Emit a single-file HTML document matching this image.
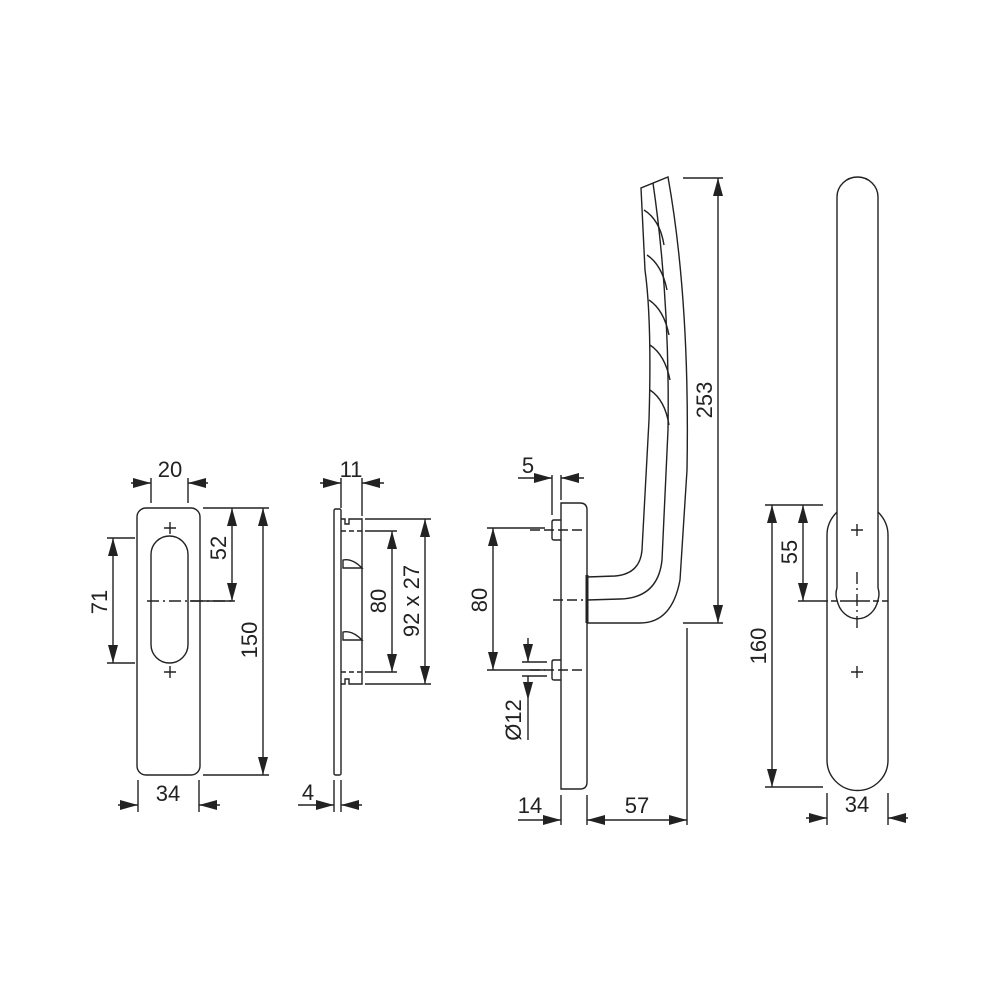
<!DOCTYPE html>
<html><head><meta charset="utf-8"><style>
html,body{margin:0;padding:0;background:#fff}
svg{display:block}
text{font-family:"Liberation Sans",sans-serif;font-size:22px;fill:#222}
</style></head><body>
<svg width="1000" height="1000" viewBox="0 0 1000 1000" xmlns="http://www.w3.org/2000/svg">
<defs>
<marker id="a" viewBox="0 0 18 10" refX="18" refY="5" markerWidth="18" markerHeight="10" markerUnits="userSpaceOnUse" orient="auto-start-reverse"><path d="M0,0 L18,5 L0,10 z" fill="#222"/></marker>
</defs>
<g stroke="#222" stroke-width="1.4" fill="none">
<!-- Plate 1 -->
<rect x="137" y="508" width="63" height="267" rx="9"/>
<rect x="151" y="536" width="37" height="127" rx="18.5"/>
<path d="M164,528 h12 M170,522 v12 M164,672 h12 M170,666 v12"/>
<path d="M147,601 h88" stroke-dasharray="12,4,2,4"/>
<path d="M151,503 v-25 M188,503 v-25"/>
<path d="M131,483 L151,483" marker-end="url(#a)"/>
<path d="M208,483 L188,483" marker-end="url(#a)"/>
<path d="M203,508 h66 M203,775 h66 M190,601 h45"/>
<path d="M232,508 V601" marker-start="url(#a)" marker-end="url(#a)"/>
<path d="M263,508 V775" marker-start="url(#a)" marker-end="url(#a)"/>
<path d="M107,538 h28 M107,663 h28"/>
<path d="M113,538 V663" marker-start="url(#a)" marker-end="url(#a)"/>
<path d="M138,780 v32 M199,780 v32"/>
<path d="M118,805 L138,805" marker-end="url(#a)"/>
<path d="M220,805 L199,805" marker-end="url(#a)"/>
<!-- Side plate -->
<rect x="334" y="509" width="7" height="266" rx="1.5"/>
<path d="M341,519 h4 v5 h4 v-5 h13 v165 h-13 v-5 h-4 v5 h-4"/>
<path d="M341,531 h21 M341,672 h21" stroke-dasharray="5,3"/>
<path d="M343,560 Q352,558 362,568 L343,568 Z M343,632 Q352,630 362,640 L343,640 Z"/>
<path d="M341,508 v-30 M362,516 v-38"/>
<path d="M320,483 L341,483" marker-end="url(#a)"/>
<path d="M384,483 L362,483" marker-end="url(#a)"/>
<path d="M334,780 v32 M341,780 v32"/>
<path d="M298,805 L334,805" marker-end="url(#a)"/>
<path d="M362,805 L341,805" marker-end="url(#a)"/>
<path d="M365,531 h32 M365,672 h32 M365,519 h66 M365,684 h66"/>
<path d="M392,531 V672" marker-start="url(#a)" marker-end="url(#a)"/>
<path d="M425,519 V684" marker-start="url(#a)" marker-end="url(#a)"/>
<!-- Handle side -->
<path d="M561,789 V503 H580 Q587,503 587,510 V782 Q587,789 580,789 Z"/>
<path d="M561,520 h-7 q-2,0 -2,2 v16 q0,2 2,2 h7 M561,660 h-7 q-2,0 -2,2 v16 q0,2 2,2 h7"/>
<path d="M530,530 h52 M530,670 h52 M553,600 h30" stroke-dasharray="10,4"/>
<path d="M587,577 L615,576 Q640,574 642,550 L649,420 Q652,320 645,270 L641,188 L668,177 Q690,300 687,470 L680,580 Q672,623 640,623 L587,623"/>
<path d="M587,600 L620,599 Q658,598 662,560 L668,430 Q670,300 653,183"/>
<path d="M587,575 v48" stroke-width="3"/>
<path d="M644,210 Q660,220 664,245 M647,255 Q662,265 667,290 M649,300 Q664,310 669,335 M650,345 Q665,355 670,380 M650,390 Q665,400 669,425"/>
<path d="M552,515 v-40 M561,500 v-25"/>
<path d="M518,478 L552,478" marker-end="url(#a)"/>
<path d="M584,478 L561,478" marker-end="url(#a)"/>
<path d="M487,528 h58 M487,670 h58"/>
<path d="M493,528 V670" marker-start="url(#a)" marker-end="url(#a)"/>
<path d="M522,662 h25 M522,676 h25"/>
<path d="M528,638 L528,662" marker-end="url(#a)"/>
<path d="M528,700 L528,676 M528,700 V740" marker-start="url(#a)"/>
<path d="M561,795 v30 M587,795 v30 M687,628 v197"/>
<path d="M518,820 L561,820" marker-end="url(#a)"/>
<path d="M587,820 H687" marker-start="url(#a)" marker-end="url(#a)"/>
<path d="M683,178 h40 M683,623 h40"/>
<path d="M718,178 V623" marker-start="url(#a)" marker-end="url(#a)"/>
<!-- Front view -->
<path d="M837,588 V197 A20.5,20 0 0 1 878,197 V588"/>
<path d="M837,512 Q827,522 827,535 V760 A30,30 0 0 0 888,760 V535 Q888,522 878,512"/>
<path d="M837,588 Q835,594 837,600 A21,24 0 0 0 878,600 Q880,594 878,588"/>
<path d="M851,530 h12 M857,524 v12 M851,672 h12 M857,666 v12"/>
<path d="M857,572 v58" stroke-dasharray="12,4,2,4"/>
<path d="M798,601 h90" stroke-dasharray="30,3,6,3"/>
<path d="M765,505 h58 M765,787 h58"/>
<path d="M803,505 V601" marker-start="url(#a)" marker-end="url(#a)"/>
<path d="M772,505 V787" marker-start="url(#a)" marker-end="url(#a)"/>
<path d="M827,793 v32 M888,793 v32"/>
<path d="M806,818 L827,818" marker-end="url(#a)"/>
<path d="M908,818 L888,818" marker-end="url(#a)"/>
</g>
<text x="170" y="477" text-anchor="middle">20</text>
<text x="168" y="801" text-anchor="middle">34</text>
<text transform="translate(226,548) rotate(-90)" text-anchor="middle">52</text>
<text transform="translate(257,640) rotate(-90)" text-anchor="middle">150</text>
<text transform="translate(107,602) rotate(-90)" text-anchor="middle">71</text>
<text x="351" y="477" text-anchor="middle">11</text>
<text x="308" y="800" text-anchor="middle">4</text>
<text transform="translate(386,601) rotate(-90)" text-anchor="middle">80</text>
<text transform="translate(419,601) rotate(-90)" text-anchor="middle">92 x 27</text>
<text x="528" y="473" text-anchor="middle">5</text>
<text transform="translate(487,600) rotate(-90)" text-anchor="middle">80</text>
<text transform="translate(521,720) rotate(-90)" text-anchor="middle">Ø12</text>
<text x="530" y="813" text-anchor="middle">14</text>
<text x="637" y="813" text-anchor="middle">57</text>
<text transform="translate(712,400) rotate(-90)" text-anchor="middle">253</text>
<text transform="translate(797,552) rotate(-90)" text-anchor="middle">55</text>
<text transform="translate(766,646) rotate(-90)" text-anchor="middle">160</text>
<text x="857" y="812" text-anchor="middle">34</text>
</svg>
</body></html>
